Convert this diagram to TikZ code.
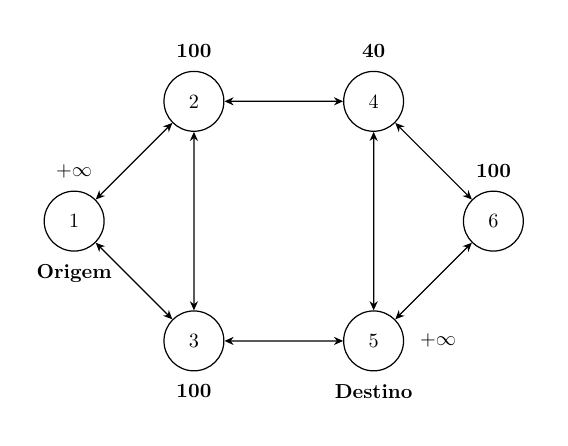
\documentclass[tikz,border=0pt]{standalone}
\usepackage{amsmath}
\usetikzlibrary{arrows.meta}
\begin{document}
\begin{tikzpicture}
[scale=1.04,>={Stealth[length=4.5pt,width=4pt]},semithick,
 state/.style={circle,draw,minimum size=1.04cm},
 val/.style={font=\bfseries},
 label distance=2.7pt]
   \useasboundingbox (-1.238,-3.754) rectangle (8.246,3.692);
   \node[state,label={above:$+\infty$},label={[val]below:Origem}] (n1) at (0,0) {1};
   \node[state,label={[val]above:100}] (n2) at (2,2) {2};
   \node[state,label={[val]below:100}] (n3) at (2,-2) {3};
   \node[state,label={[val]above:40}] (n4) at (5,2) {4};
   \node[state,label={[val]below:Destino},label={[xshift=1.5pt]right:$+\infty$}] (n5) at (5,-2) {5};
   \node[state,label={[val]above:100}] (n6) at (7,0) {6};
    \path[<->,draw]
    (n1) edge (n2)
    (n1) edge (n3)
    (n2) edge (n3)
    (n2) edge (n4)
    (n3) edge (n5)
    (n4) edge (n5)
    (n4) edge (n6)
    (n5) edge (n6)
    ;
  \end{tikzpicture}
\end{document}
